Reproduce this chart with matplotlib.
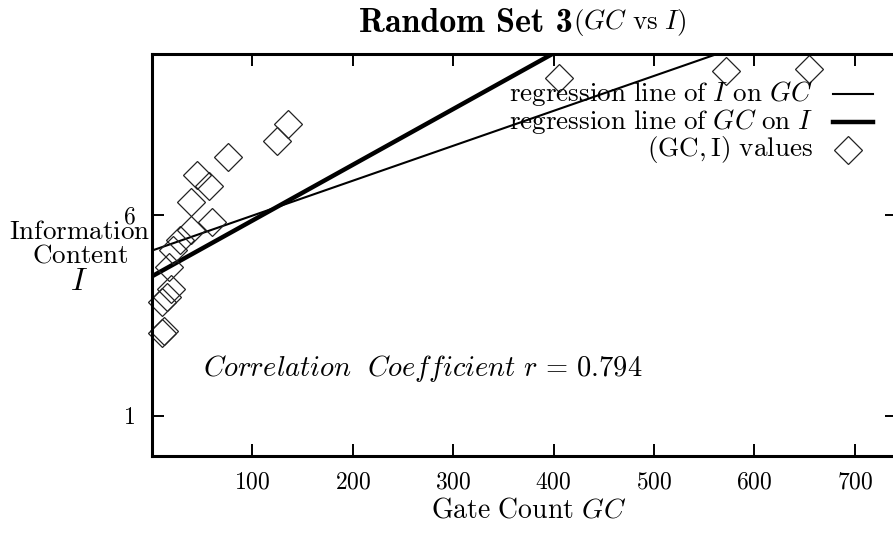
import matplotlib
matplotlib.use("Agg")
import matplotlib.pyplot as plt
import numpy as np
from matplotlib.lines import Line2D

plt.rcParams['mathtext.fontset'] = 'cm'
plt.rcParams['font.family'] = ['cmr10', 'DejaVu Serif']
plt.rcParams['axes.formatter.use_mathtext'] = True

# (GC, I) sample values
gate_count = [10, 12, 10, 15, 19, 17, 21, 28, 39, 60, 39, 57, 45, 76, 124, 135, 405, 572, 654]
info_content = [3.05, 3.10, 3.83, 3.95, 4.16, 4.70, 5.13, 5.38, 5.61, 5.83, 6.31, 6.72, 7.00, 7.44, 7.84, 8.27, 9.40, 9.58, 9.63]

# regression lines (intercept, slope)
i_on_gc = (5.11, 0.00869)
gc_on_i = (4.47, 0.01387)
corr_r = 0.794

x_ticks = [100, 200, 300, 400, 500, 600, 700]
y_ticks = [1, 6]

W, H = 893, 533


def fx(px):
    return px / W


def fy(py):
    return 1 - py / H


fig = plt.figure(figsize=(W/100, H/100), dpi=100)
ax = fig.add_axes([fx(152), fy(456), (897 - 152)/W, (456 - 54)/H])
ax.set_xlim(0, 742)
ax.set_ylim(0, 10)

xs = np.array([0, 742])
ax.plot(xs, i_on_gc[0] + i_on_gc[1]*xs, color='black', lw=1.5, solid_capstyle='butt')
ax.plot(xs, gc_on_i[0] + gc_on_i[1]*xs, color='black', lw=3.2, solid_capstyle='butt')
ax.plot(gate_count, info_content, linestyle='none', marker='D', markersize=14,
        markerfacecolor='none', markeredgecolor='#222222', markeredgewidth=0.9, clip_on=False)

ax.set_xticks(x_ticks)
ax.set_yticks(y_ticks)
ax.set_xticklabels([f'${v}$' for v in x_ticks])
ax.set_yticklabels([f'${v}$' for v in y_ticks])
ax.tick_params(direction='in', length=8.5, width=1.4, top=True, right=True,
               labelsize=17)
ax.tick_params(axis='x', pad=11)
ax.tick_params(axis='y', pad=12)
for s in ax.spines.values():
    s.set_linewidth(2.2)

# axis titles
fig.text(fx(529), fy(510), r'$\mathrm{Gate\ Count}\ GC$', fontsize=20, ha='center', va='center')
fig.text(fx(80), fy(232), r'$\mathrm{Information}$', fontsize=19.5, ha='center', va='center')
fig.text(fx(80), fy(256), r'$\mathrm{Content}$', fontsize=19.5, ha='center', va='center')
fig.text(fx(79), fy(282), r'$I$', fontsize=23, ha='center', va='center')

# title: bold part and italic part
fig.text(fx(573), fy(23), 'Random Set 3', fontsize=24.5, ha='right', va='center',
         family='cmb10')
fig.text(fx(573), fy(23), r'$(GC\ \mathrm{vs}\ I)$', fontsize=19.5, ha='left', va='center')

ax.text(fx(203), fy(369), r'$Correlation\ \ Coefficient\ r\,=\,%.3f$' % corr_r,
        fontsize=20.5, ha='left', va='center', transform=fig.transFigure)

# legend drawn as right-aligned rows
rows = [
    (r'$\mathrm{regression\ line\ of}\ I\ \mathrm{on}\ GC$', 'line', 1.5),
    (r'$\mathrm{regression\ line\ of}\ GC\ \mathrm{on}\ I$', 'line', 3.2),
    (r'$\mathrm{(GC,I)\ values}$', 'marker', 0),
]
row_y = [94, 122, 150]
for (label, kind, lw), py in zip(rows, row_y):
    fig.text(fx(813), fy(py), label, fontsize=19.5, ha='right', va='center')
    if kind == 'line':
        fig.add_artist(Line2D([fx(833), fx(873)], [fy(py), fy(py)], color='black', lw=lw,
                              transform=fig.transFigure))
    else:
        fig.add_artist(Line2D([fx(848)], [fy(py)], marker='D', markersize=14,
                              markerfacecolor='none', markeredgecolor='#222222',
                              markeredgewidth=0.9, transform=fig.transFigure))

fig.savefig('out.png', dpi=100)
